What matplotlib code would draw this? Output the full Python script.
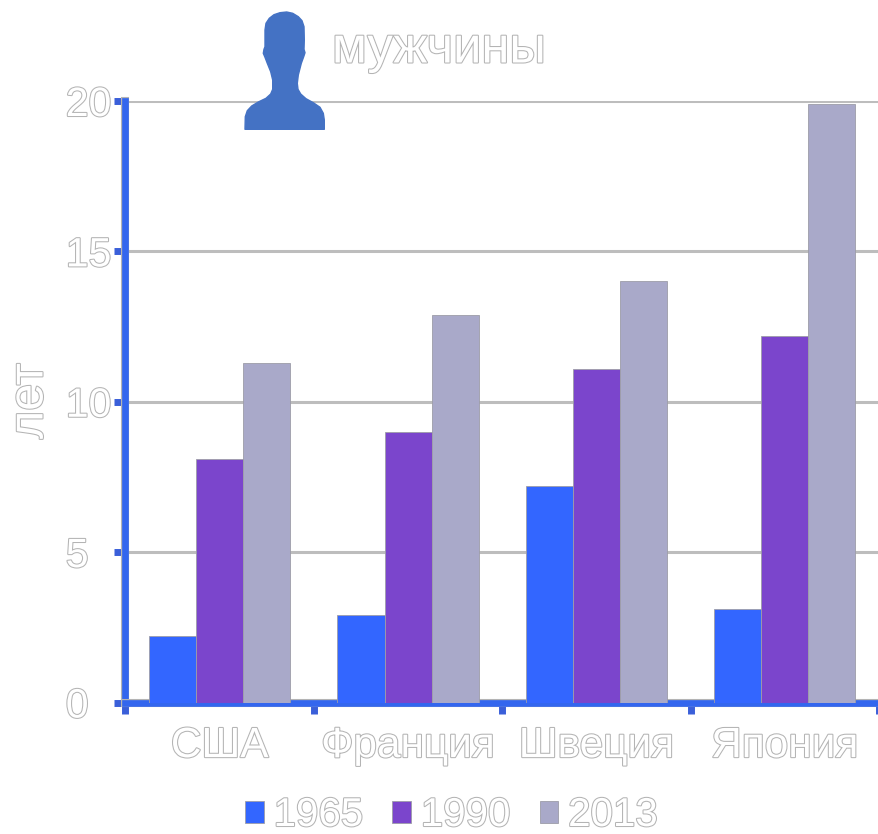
import matplotlib
matplotlib.use('Agg')
import matplotlib.pyplot as plt
import matplotlib.patheffects as pe
import numpy as np
from matplotlib.path import Path
from matplotlib.patches import PathPatch

plt.rcParams['font.family'] = ['Liberation Sans', 'DejaVu Sans']

countries = ['США', 'Франция', 'Швеция', 'Япония']
years = ['1965', '1990', '2013']
values_1965 = [2.2, 2.9, 7.2, 3.1]
values_1990 = [8.1, 9.0, 11.1, 12.2]
values_2013 = [11.3, 12.9, 14.0, 19.9]
bar_colors = ['#3366ff', '#7b45cc', '#a9a9c9']
y_ticks = [0, 5, 10, 15, 20]

# head and shoulders icon, in figure pixels measured from the top left
icon_verts = [
    (245, 129.3), (245.3, 116.7), (247.3, 110.7), (251.7, 106), (258.3, 102),
    (266, 98.3), (270.7, 94), (272.7, 89.3), (272.7, 80), (270.7, 71.7),
    (267.3, 63.3), (265, 57.3), (263.3, 53.3), (264, 49.3), (265, 46.7),
    (265, 30), (266, 23.3), (269.3, 18.3), (274, 14.7), (280, 12.7),
    (286.7, 12), (292.7, 13.3), (298.3, 16.7), (302, 20.7), (304, 26.7),
    (304.3, 40), (304, 49.3), (305, 52.7), (303.7, 56.7), (301.3, 63.3),
    (298.3, 75), (297.3, 83.3), (298, 89.3), (300.7, 94), (306, 98.7),
    (313.3, 102.7), (320, 107.3), (323.3, 113.3), (324.3, 120), (324.3, 129.3),
    (245, 129.3),
]

WIDTH, HEIGHT = 879, 834
OUTLINE = [pe.withStroke(linewidth=1.5, foreground='#b4b4b4')]


def outlined(text):
    '''White letters with a thin grey contour.'''
    text.set_color('white')
    text.set_path_effects(OUTLINE)


fig = plt.figure(figsize=(WIDTH / 100, HEIGHT / 100), dpi=100)
ax = fig.add_axes([125.5 / WIDTH, (HEIGHT - 702.5) / HEIGHT,
                   (WIDTH - 125.5) / WIDTH, 601.5 / HEIGHT])

x = np.arange(len(countries)) + 0.5
bar_width = 0.25
all_values = [values_1965, values_1990, values_2013]
for i, (year, vals) in enumerate(zip(years, all_values)):
    ax.bar(x + (i - 1) * bar_width, vals, bar_width, color=bar_colors[i],
           edgecolor='#9d9da8', linewidth=0.6, label=year, zorder=5)

ax.set_xlim(0, 4)
ax.set_ylim(0, 20)
ax.set_yticks(y_ticks)
ax.yaxis.grid(True, color='#bdbdbd', linewidth=2.2)
ax.set_axisbelow(True)

ax.set_xticks(range(5))
ax.set_xticklabels([])
ax.set_xticks(x, countries, minor=True)
ax.tick_params(axis='x', which='minor', length=0, pad=17, labelsize=30.5)
ax.tick_params(axis='x', which='major', length=8, width=5, color='#3a5fd9')
# the numbers are flush left, so the pad runs from the tick end to their left edge
ax.tick_params(axis='y', length=8, width=5, color='#3a5fd9', pad=35, labelsize=29.5)
for label in ax.get_yticklabels():
    label.set_horizontalalignment('left')
for label in ax.get_xticklabels(minor=True) + ax.get_yticklabels():
    outlined(label)

ax.spines['top'].set_visible(False)
ax.spines['right'].set_visible(False)
for side in ['left', 'bottom']:
    ax.spines[side].set_color('#3366ee')
    ax.spines[side].set_linewidth(4.8)
    ax.spines[side].set_zorder(4)
    ax.spines[side].set_path_effects(
        [pe.Stroke(linewidth=5.8, foreground='#b4b4b4'), pe.Normal()])

outlined(fig.text(30 / WIDTH, 1 - 401 / HEIGHT, 'лет', rotation=90,
                  ha='center', va='center', fontsize=35))
outlined(fig.text(332 / WIDTH, 1 - 49 / HEIGHT, 'мужчины',
                  ha='left', va='center', fontsize=36.5))

legend = fig.legend(loc='center', bbox_to_anchor=(451.5 / WIDTH, 1 - 815 / HEIGHT),
                    ncol=3, frameon=False, fontsize=29, handlelength=0.46,
                    handleheight=0.46, handletextpad=0.25, columnspacing=0.72,
                    borderpad=0)
for text in legend.get_texts():
    outlined(text)

# icon sits above the axes and overlaps the top grid line
codes = [Path.MOVETO] + [Path.LINETO] * (len(icon_verts) - 2) + [Path.CLOSEPOLY]
icon_path = Path([(px / WIDTH, 1 - py / HEIGHT) for px, py in icon_verts], codes)
fig.add_artist(PathPatch(icon_path, transform=fig.transFigure, facecolor='#4472c4',
                         edgecolor='#4472c4', linewidth=1, joinstyle='round',
                         zorder=10))

fig.savefig('out.png', dpi=100)
